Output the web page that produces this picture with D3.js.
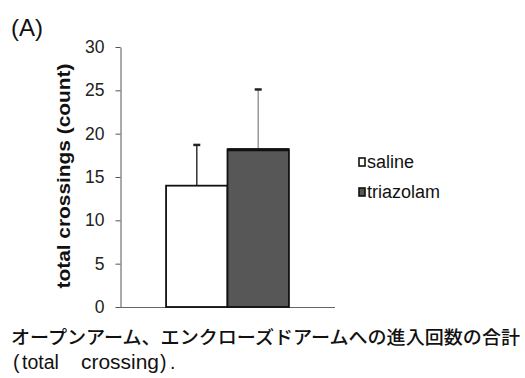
<!DOCTYPE html>
<html>
<head>
<meta charset="utf-8">
<script src="https://cdn.jsdelivr.net/npm/d3@7"></script>
<style>
  html, body { margin: 0; padding: 0; background: #fff; }
  svg { display: block; }
</style>
</head>
<body>
<svg id="chart" width="525" height="378"></svg>
<script>
// Groups, means and SD of total arm entries
const groups = ["saline", "triazolam"];
const means = [14, 18.2];
const errors = [4.7, 6.9];
const yTicks = [0, 5, 10, 15, 20, 25, 30];
const fills = ["#ffffff", "#575757"];
const whiskerColors = ["#333333", "#9a9a9a"];

const svg = d3.select("#chart");
const font = "'Liberation Sans', Arial, sans-serif";

const x = d3.scaleBand().domain(groups).range([120, 335]).paddingInner(0).paddingOuter(0.75);
const y = d3.scaleLinear().domain([0, 30]).range([307, 47]);

// Panel label
svg.append("text").attr("x", 11).attr("y", 36)
  .attr("font-family", font).attr("font-size", 24).attr("fill", "#111").text("(A)");

// Y axis
const yAxis = d3.axisLeft(y).tickValues(yTicks).tickSize(5).tickPadding(11).tickSizeOuter(0);
const gy = svg.append("g").attr("transform", "translate(120.5,0)").call(yAxis);
gy.select(".domain").attr("stroke", "#555");
gy.selectAll(".tick line").attr("stroke", "#555");
gy.selectAll(".tick text").attr("font-family", font).attr("font-size", 17.5).attr("fill", "#222");

// Baseline
svg.append("line").attr("x1", 120).attr("x2", 335).attr("y1", y(0) + 0.5).attr("y2", y(0) + 0.5)
  .attr("stroke", "#666").attr("stroke-width", 1.2);

// Error bars (drawn first so the bars sit over their stems)
const bw = x.bandwidth();
groups.forEach((g, i) => {
  const cx = x(g) + bw / 2;
  svg.append("line").attr("x1", cx).attr("x2", cx)
    .attr("y1", y(means[i])).attr("y2", y(means[i] + errors[i]))
    .attr("stroke", whiskerColors[i]).attr("stroke-width", 1.5);
  svg.append("line").attr("x1", cx - 3.5).attr("x2", cx + 3.5)
    .attr("y1", y(means[i] + errors[i])).attr("y2", y(means[i] + errors[i]))
    .attr("stroke", "#222").attr("stroke-width", 2.5);
});

// Bars
svg.selectAll("rect.bar").data(groups).enter().append("rect")
  .attr("class", "bar")
  .attr("x", d => x(d))
  .attr("y", (d, i) => y(means[i]))
  .attr("width", bw)
  .attr("height", (d, i) => y(0) - y(means[i]))
  .attr("fill", (d, i) => fills[i])
  .attr("stroke", "#111").attr("stroke-width", 1.8);

// Heavier top edge on the triazolam bar
svg.append("line").attr("x1", x("triazolam")).attr("x2", x("triazolam") + bw)
  .attr("y1", y(means[1]) + 0.5).attr("y2", y(means[1]) + 0.5)
  .attr("stroke", "#111").attr("stroke-width", 3);

// Y axis title
svg.append("text")
  .attr("transform", "translate(70,176) rotate(-90)")
  .attr("text-anchor", "middle")
  .attr("font-family", font).attr("font-size", 17.5).attr("font-weight", "bold").attr("fill", "#111")
  .attr("textLength", 225).attr("lengthAdjust", "spacingAndGlyphs")
  .text("total crossings (count)");

// Legend
const legend = svg.append("g");
groups.forEach((g, i) => {
  const ly = 162 + i * 30;
  legend.append("rect").attr("x", 359).attr("y", ly - 4).attr("width", 6).attr("height", 8)
    .attr("fill", fills[i]).attr("stroke", "#111").attr("stroke-width", 1.6);
  legend.append("text").attr("x", 367).attr("y", ly + 6)
    .attr("font-family", font).attr("font-size", 18).attr("fill", "#111").text(g);
});

// Caption
svg.append("text").attr("x", 11).attr("y", 344)
  .attr("font-family", "'Noto Sans CJK JP', sans-serif").attr("font-size", 18.5)
  .attr("font-weight", 500).attr("fill", "#111")
  .attr("textLength", 509).attr("lengthAdjust", "spacingAndGlyphs")
  .text("オープンアーム、エンクローズドアームへの進入回数の合計");
const cap2 = svg.append("text").attr("y", 369)
  .attr("font-family", font).attr("font-size", 19.5).attr("fill", "#111");
cap2.append("tspan").attr("x", 13).text("(");
cap2.append("tspan").attr("x", 22).text("total");
cap2.append("tspan").attr("x", 81).attr("textLength", 78).attr("lengthAdjust", "spacingAndGlyphs").text("crossing");
cap2.append("tspan").attr("x", 160).text(")");
cap2.append("tspan").attr("x", 170).text(".");
</script>
</body>
</html>
